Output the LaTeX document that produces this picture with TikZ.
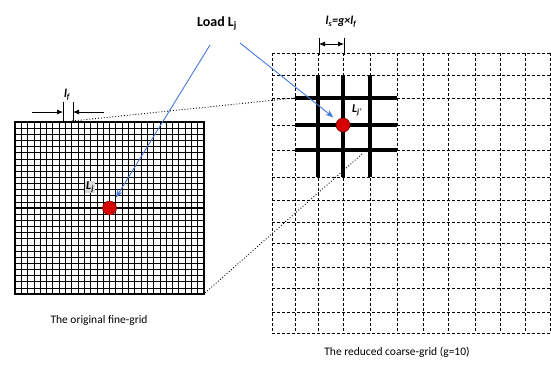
\documentclass[tikz,border=0pt]{standalone}
\usepackage{fontspec}
\setmainfont{Carlito}
\usetikzlibrary{arrows.meta,positioning}
\definecolor{arrowblue}{RGB}{70,122,222}
\definecolor{dotred}{RGB}{214,0,0}

\begin{document}
\begin{tikzpicture}[x=1pt,y=-1pt,
  fine/.style={line width=0.7pt},
  finebold/.style={line width=1.4pt},
  coarse/.style={line width=0.7pt,dash pattern=on 3pt off 2pt},
  coarsebold/.style={line width=3.6pt},
  load/.style={circle,fill=dotred,draw=red!45!black,line width=0.5pt,inner sep=0pt,minimum size=14pt},
  pointer/.style={-{Stealth[length=8pt,width=6pt]},arrowblue,line width=0.9pt},
  zoomline/.style={dotted,line width=0.9pt},
  dim/.style={line width=0.8pt},
  lbl/.style={font=\bfseries\itshape\fontsize{12}{12}\selectfont,inner sep=1pt},
  caption/.style={font=\fontsize{11.5}{12}\selectfont}
]
\useasboundingbox (0,0) rectangle (551,365);

% original fine grid
\foreach \i in {0,...,30} \draw[fine] ({15+\i*6.3},122) -- ({15+\i*6.3},294);
\foreach \j in {0,...,28} \draw[fine] (15,{122+\j*6.143}) -- (204,{122+\j*6.143});
\draw[finebold] (15,122) rectangle (204,294);
\draw[finebold] (109.5,122) -- (109.5,294);
\draw[finebold] (15,208) -- (204,208);

% reduced coarse grid
\foreach \x in {272,295,318,343,370,397,423,448,475,500,525,550}
  \draw[coarse] (\x,53) -- (\x,333);
\foreach \y in {53,75,98,125,150,177,200,222,243,267,288,312,333}
  \draw[coarse] (272,\y) -- (550,\y);
\foreach \x in {318,343,370} \draw[coarsebold] (\x,75) -- (\x,177);
\foreach \y in {98,125,150} \draw[coarsebold] (295,\y) -- (397,\y);

% zoom lines
\coordinate (ftop) at (72,121);
\coordinate (ctop) at (295,98);
\coordinate (fcorner) at (205,293);
\coordinate (cbot) at (362,154);
\draw[zoomline] (ftop) -- (ctop);
\draw[zoomline] (fcorner) -- (cbot);

% loads
\node[load] (fdot) at (109.5,208) {};
\node[load] (cdot) at (343,125) {};
\node[lbl,fill=black!15] (flbl) at (90,187) {L\textsubscript{j}};
\node[lbl] (clbl) at (357,110) {L\textsubscript{j'}};

% load label and pointers
\node[font=\bfseries\fontsize{14}{14}\selectfont] (loadlbl) at (217,23) {Load L\textsubscript{j}};
\coordinate (p1) at (210,45);
\coordinate (p2) at (240,43);
\draw[pointer,shorten >=5pt] (p1) -- (fdot);
\draw[pointer,shorten >=5pt] (p2) -- (cdot);

% fine spacing
\draw[dim] (63,102) -- (63,121);
\draw[dim] (73,102) -- (73,121);
\coordinate (fa) at (32,112);
\coordinate (fb) at (63,112);
\coordinate (fc) at (104,112);
\coordinate (fd) at (73,112);
\draw[dim,-{Latex[length=6pt,width=5pt]}] (fa) -- (fb);
\draw[dim,-{Latex[length=6pt,width=5pt]}] (fc) -- (fd);
\node[lbl] (lf) at (67,95) {l\textsubscript{f}};

% coarse spacing
\draw[dim] (319,38) -- (319,55);
\draw[dim] (344,38) -- (344,55);
\coordinate (ca) at (319,44);
\coordinate (cb) at (344,44);
\draw[dim,{Latex[length=6pt,width=5pt]}-{Latex[length=6pt,width=5pt]}] (ca) -- (cb);
\node[lbl] (ls) at (341,22) {l\textsubscript{s}=g×l\textsubscript{f}};

% captions
\node[caption] (fcap) at (99,320) {The original fine-grid};
\node[caption] (ccap) at (397,352) {The reduced coarse-grid (g=10)};
\end{tikzpicture}
\end{document}
